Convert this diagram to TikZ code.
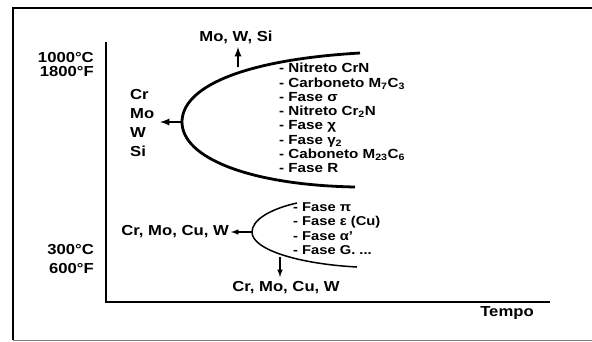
\documentclass[tikz,border=0pt]{standalone}
\usepackage{fontspec}
\setmainfont[FakeStretch=1.15]{Liberation Sans}
\usetikzlibrary{arrows}
\newcommand{\sub}[1]{\textsubscript{#1}}

\begin{document}
\begin{tikzpicture}[x=1pt,y=-1pt,>=latex,
  every node/.style={font=\fontsize{14.5}{14}\selectfont\bfseries,inner sep=0pt},
  axis/.style={line width=2.4pt},
  big/.style={line width=2.8pt},
  small/.style={line width=1.5pt},
  lbl/.style={align=left,anchor=west}]
  \useasboundingbox (0,0) rectangle (592,341);
  % frame
  \draw[line width=2pt] (13,340) -- (13,8) -- (592,8);
  \draw[gray,line width=1pt] (13,340) -- (592,340);
  % axes
  \coordinate (o) at (106,302);
  \coordinate (ytop) at (106,42);
  \coordinate (xend) at (550,302);
  \draw[axis] (ytop) -- (o) -- (xend);
  \node (tempo) at (507,313) {Tempo};
  \node[align=right,anchor=east,font=\fontsize{14.5}{14}\selectfont\bfseries] (thi) at (94,65) {1000°C\\1800°F};
  \node[align=right,anchor=east,font=\fontsize{14.5}{19}\selectfont\bfseries] (tlo) at (94,259.5) {300°C\\600°F};
  % upper C curve
  \coordinate (ua) at (360,53);
  \coordinate (unose) at (182,122);
  \coordinate (ub) at (355,187);
  \coordinate (utop) at (238,67);
  \draw[big] (ua) .. controls (240,60) and (182,88) .. (unose)
    .. controls (182,158) and (250,185) .. (ub);
  \coordinate (uleft) at (160,122);
  \coordinate (uup) at (238,47);
  \draw[->,small,line width=2.2pt] (unose) -- (uleft);
  \draw[->,small,line width=2.2pt] (utop) -- (uup);
  \node (mws) at (236,37) {Mo, W, Si};
  \node[lbl,font=\fontsize{14.5}{19}\selectfont\bfseries] (crmo) at (130,123) {Cr\\Mo\\W\\Si};
  \node[lbl,anchor=north west,font=\fontsize{13.2}{14.3}\selectfont\bfseries] (uphases) at (279,63) {- Nitreto CrN\\
    - Carboneto M\sub{7}C\sub{3}\\
    - Fase σ\\
    - Nitreto Cr\sub{2}N\\
    - Fase χ\\
    - Fase γ\sub{2}\\
    - Caboneto M\sub{23}C\sub{6}\\
    - Fase R};
  % lower C curve
  \coordinate (la) at (297,203);
  \coordinate (lnose) at (252,232);
  \coordinate (lb) at (357,267);
  \coordinate (lbot) at (280,257);
  \draw[small] (la) .. controls (270,209) and (252,220) .. (lnose)
    .. controls (252,250) and (300,264) .. (lb);
  \coordinate (lleft) at (231,232);
  \coordinate (ldown) at (280,277);
  \draw[->,small] (lnose) -- (lleft);
  \draw[->,small] (lbot) -- (ldown);
  \node[anchor=east] (cmcw) at (229,232) {Cr, Mo, Cu, W};
  \node (cmcwb) at (286,288) {Cr, Mo, Cu, W};
  \node[lbl,anchor=north west,font=\fontsize{12.8}{14.3}\selectfont\bfseries] (lophases) at (293,202.5) {- Fase π\\
    - Fase ε (Cu)\\
    - Fase α'\\
    - Fase G. ...};
\end{tikzpicture}
\end{document}
